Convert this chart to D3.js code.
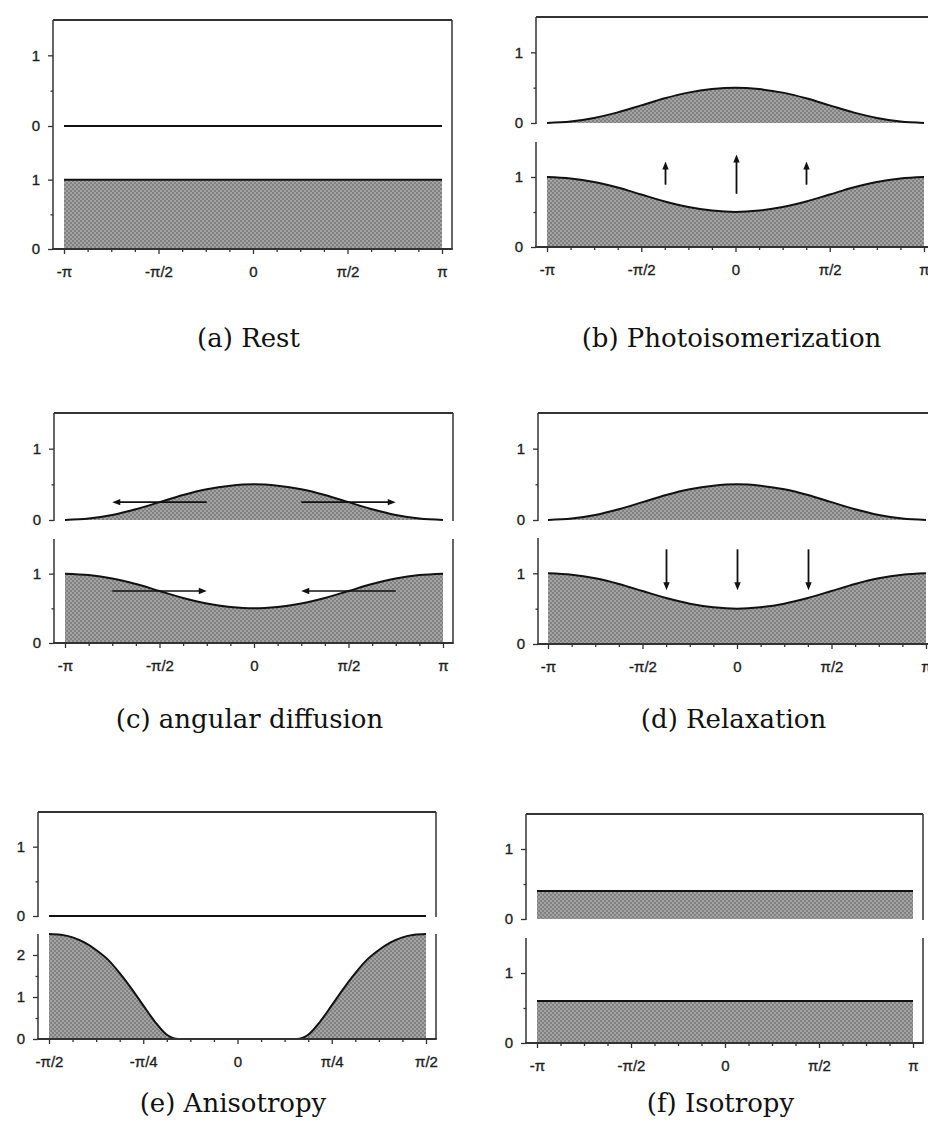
<!DOCTYPE html>
<html>
<head>
<meta charset="utf-8">
<script src="https://cdn.jsdelivr.net/npm/d3@7"></script>
<style>
  body { margin: 0; background: #fff; }
  svg { display: block; }
  .tick text { font-family: "Liberation Sans", Arial, sans-serif; font-size: 15px; fill: #1e1e1e; stroke: #1e1e1e; stroke-width: 0.35px; }
  .caption { font-family: "DejaVu Serif", serif; font-size: 26px; fill: #111; }
</style>
</head>
<body>
<svg id="fig" width="928" height="1147"></svg>
<script>
const PI = Math.PI;

// Angle grids: multiples of pi/8 over [-pi, pi] and of pi/32 over [-pi/2, pi/2]
const angleSteps = [-8, -7, -6, -5, -4, -3, -2, -1, 0, 1, 2, 3, 4, 5, 6, 7, 8];
const anglesFull = angleSteps.map(k => k * PI / 8);
const fineSteps = d3.range(-16, 17);
const anglesHalf = fineSteps.map(k => k * PI / 32);
const endsFull = [-PI, PI];
const endsHalf = [-PI / 2, PI / 2];

// Populations: upper row = excited (cis) state, lower row = ground (trans) state
const restUpper = [0, 0];
const restLower = [1, 1];
const excitedUpper = [0, 0.02, 0.07, 0.15, 0.25, 0.35, 0.43, 0.48, 0.5, 0.48, 0.43, 0.35, 0.25, 0.15, 0.07, 0.02, 0];
const depletedLower = [1, 0.98, 0.93, 0.85, 0.75, 0.65, 0.57, 0.52, 0.5, 0.52, 0.57, 0.65, 0.75, 0.85, 0.93, 0.98, 1];
const anisoUpper = [0, 0];
const anisoLower = [2.5, 2.48, 2.42, 2.3, 2.12, 1.89, 1.57, 1.2, 0.8, 0.41, 0.1, 0, 0, 0, 0, 0, 0,
                    0, 0, 0, 0, 0, 0.1, 0.41, 0.8, 1.2, 1.57, 1.89, 2.12, 2.3, 2.42, 2.48, 2.5];
const isoUpper = [0.4, 0.4];
const isoLower = [0.6, 0.6];

// Arrows: pumping (up), relaxation (down), diffusion (sideways)
const pumpArrowX = [-3 * PI / 8, 0, 3 * PI / 8];
const pumpArrowFrom = [0.89, 0.76, 0.89];
const pumpArrowTo = [1.22, 1.32, 1.22];
const relaxArrowX = [-3 * PI / 8, 0, 3 * PI / 8];
const relaxArrowFrom = [1.34, 1.34, 1.34];
const relaxArrowTo = [0.76, 0.76, 0.76];
const diffUpperFrom = [-PI / 4, PI / 4];
const diffUpperTo = [-3 * PI / 4, 3 * PI / 4];
const diffUpperLevel = 0.25;
const diffLowerFrom = [-3 * PI / 4, 3 * PI / 4];
const diffLowerTo = [-PI / 4, PI / 4];
const diffLowerLevel = 0.75;

// Axis ticks
const fullTickValues = [-PI, -PI / 2, 0, PI / 2, PI];
const fullTickLabels = ["-π", "-π/2", "0", "π/2", "π"];
const halfTickValues = [-PI / 2, -PI / 4, 0, PI / 4, PI / 2];
const halfTickLabels = ["-π/2", "-π/4", "0", "π/4", "π/2"];
const yTickValues = [0, 1];
const yMinorValues = [0.5];
const anisoTickValues = [0, 1, 2];
const anisoMinorValues = [0.5, 1.5];

const captions = ["(a) Rest", "(b) Photoisomerization", "(c) angular diffusion",
                  "(d) Relaxation", "(e) Anisotropy", "(f) Isotropy"];

const svg = d3.select("#fig");

// Halftone-like grey fill
const pat = svg.append("defs").append("pattern")
  .attr("id", "shade").attr("width", 4).attr("height", 4)
  .attr("patternUnits", "userSpaceOnUse");
pat.append("rect").attr("width", 4).attr("height", 4).attr("fill", "#a3a3a3");
pat.append("rect").attr("width", 2).attr("height", 2).attr("fill", "#818181");
pat.append("rect").attr("x", 2).attr("y", 2).attr("width", 2).attr("height", 2).attr("fill", "#818181");

const panels = [
  { caption: captions[0], split: false, left: 53, right: 452, top: 20, upperZero: 126, lowerTop: 145, lowerZero: 249,
    x0: 64, x1: 442, xDomain: [-PI, PI], ticks: fullTickValues, labels: fullTickLabels,
    lowerMax: 1.5, lowerTicks: yTickValues, lowerMinor: yMinorValues,
    upper: { x: endsFull, y: restUpper, fill: false }, lower: { x: endsFull, y: restLower }, capY: 347 },
  { caption: captions[1], split: true, left: 536, right: 935, top: 17, upperZero: 123, lowerTop: 142, lowerZero: 247,
    x0: 547, x1: 924, xDomain: [-PI, PI], ticks: fullTickValues, labels: fullTickLabels,
    lowerMax: 1.5, lowerTicks: yTickValues, lowerMinor: yMinorValues,
    upper: { x: anglesFull, y: excitedUpper, fill: true }, lower: { x: anglesFull, y: depletedLower }, capY: 347,
    vArrows: { x: pumpArrowX, from: pumpArrowFrom, to: pumpArrowTo } },
  { caption: captions[2], split: true, left: 54, right: 453, top: 413, upperZero: 520, lowerTop: 539, lowerZero: 643,
    x0: 65, x1: 443, xDomain: [-PI, PI], ticks: fullTickValues, labels: fullTickLabels,
    lowerMax: 1.5, lowerTicks: yTickValues, lowerMinor: yMinorValues,
    upper: { x: anglesFull, y: excitedUpper, fill: true }, lower: { x: anglesFull, y: depletedLower }, capY: 728,
    hArrows: [
      { row: "upper", from: diffUpperFrom, to: diffUpperTo, level: diffUpperLevel },
      { row: "lower", from: diffLowerFrom, to: diffLowerTo, level: diffLowerLevel } ] },
  { caption: captions[3], split: true, left: 538, right: 937, top: 413, upperZero: 520, lowerTop: 538, lowerZero: 644,
    x0: 548, x1: 926, xDomain: [-PI, PI], ticks: fullTickValues, labels: fullTickLabels,
    lowerMax: 1.5, lowerTicks: yTickValues, lowerMinor: yMinorValues,
    upper: { x: anglesFull, y: excitedUpper, fill: true }, lower: { x: anglesFull, y: depletedLower }, capY: 728,
    vArrows: { x: relaxArrowX, from: relaxArrowFrom, to: relaxArrowTo } },
  { caption: captions[4], split: true, left: 38, right: 436, top: 812, upperZero: 916, lowerTop: 934, lowerZero: 1039,
    x0: 49, x1: 426, xDomain: [-PI / 2, PI / 2], ticks: halfTickValues, labels: halfTickLabels,
    lowerMax: 2.5, lowerTicks: anisoTickValues, lowerMinor: anisoMinorValues,
    upper: { x: endsHalf, y: anisoUpper, fill: false }, lower: { x: anglesHalf, y: anisoLower }, capY: 1112 },
  { caption: captions[5], split: true, left: 526, right: 923, top: 814, upperZero: 919, lowerTop: 938, lowerZero: 1043,
    x0: 537, x1: 913, xDomain: [-PI, PI], ticks: fullTickValues, labels: fullTickLabels,
    lowerMax: 1.5, lowerTicks: yTickValues, lowerMinor: yMinorValues,
    upper: { x: endsFull, y: isoUpper, fill: true }, lower: { x: endsFull, y: isoLower }, capY: 1112 }
];

const frameColor = "#333";

function styleAxis(sel) {
  sel.select(".domain").remove();
  sel.selectAll(".tick line").attr("stroke", frameColor).attr("stroke-width", 1.3);
}

function drawSeries(g, x, y, s, withFill) {
  const pts = s.x.map((v, i) => [v, s.y[i]]);
  if (withFill) {
    g.append("path").datum(pts)
      .attr("fill", "url(#shade)")
      .attr("d", d3.area().x(d => x(d[0])).y0(y(0)).y1(d => y(d[1])).curve(d3.curveMonotoneX));
  }
  g.append("path").datum(pts)
    .attr("fill", "none").attr("stroke", "#111").attr("stroke-width", 2)
    .attr("d", d3.line().x(d => x(d[0])).y(d => y(d[1])).curve(d3.curveMonotoneX));
}

function arrowHead(g, tipX, tipY, dirX, dirY) {
  const len = 8, half = 3.2;
  const bx = tipX - dirX * len, by = tipY - dirY * len;
  const px = -dirY * half, py = dirX * half;
  g.append("path")
    .attr("d", `M${tipX},${tipY}L${bx + px},${by + py}L${bx - px},${by - py}Z`)
    .attr("fill", "#111");
}

panels.forEach(p => {
  const g = svg.append("g");
  const x = d3.scaleLinear().domain(p.xDomain).range([p.x0, p.x1]);
  const yU = d3.scaleLinear().domain([0, 1.5]).range([p.upperZero, p.top]);
  const yL = d3.scaleLinear().domain([0, p.lowerMax]).range([p.lowerZero, p.lowerTop]);

  // Curves and shaded populations
  drawSeries(g, x, yU, p.upper, p.upper.fill);
  drawSeries(g, x, yL, p.lower, true);

  // Frame
  const line = (x1, y1, x2, y2, w) => g.append("line")
    .attr("x1", x1).attr("y1", y1).attr("x2", x2).attr("y2", y2)
    .attr("stroke", frameColor).attr("stroke-width", w || 1.5);
  line(p.left, p.top, p.right, p.top, 2);
  if (p.split) {
    line(p.left, p.top, p.left, p.upperZero + 1);
    line(p.right, p.top, p.right, p.upperZero + 1);
    line(p.left, p.lowerTop, p.left, p.lowerZero);
    line(p.right, p.lowerTop, p.right, p.lowerZero);
  } else {
    line(p.left, p.top, p.left, p.lowerZero);
    line(p.right, p.top, p.right, p.lowerZero);
  }
  line(p.left - 0.75, p.lowerZero, p.right + 0.75, p.lowerZero, 1.8);

  // Bottom axis: labelled major ticks plus three minor ticks between each pair
  const major = p.ticks;
  const minor = [];
  for (let i = 0; i < major.length - 1; i++) {
    const step = (major[i + 1] - major[i]) / 4;
    for (let j = 1; j < 4; j++) minor.push(major[i] + j * step);
  }
  g.append("g").attr("transform", `translate(0,${p.lowerZero})`)
    .call(d3.axisBottom(x).tickValues(major).tickFormat((d, i) => p.labels[i]).tickSize(5).tickPadding(12))
    .call(styleAxis);
  g.append("g").attr("transform", `translate(0,${p.lowerZero})`)
    .call(d3.axisBottom(x).tickValues(minor).tickFormat("").tickSize(3))
    .call(styleAxis);

  // Left axes for both rows
  [[yU, yTickValues, yMinorValues], [yL, p.lowerTicks, p.lowerMinor]].forEach(([ys, tv, mv]) => {
    g.append("g").attr("transform", `translate(${p.left},0)`)
      .call(d3.axisLeft(ys).tickValues(tv).tickFormat(d3.format("d")).tickSize(5).tickPadding(8))
      .call(styleAxis);
    g.append("g").attr("transform", `translate(${p.left},0)`)
      .call(d3.axisLeft(ys).tickValues(mv).tickFormat("").tickSize(2.5))
      .call(styleAxis);
  });

  // Vertical arrows (pumping / relaxation)
  if (p.vArrows) {
    const a = p.vArrows;
    a.x.forEach((xv, i) => {
      const xs = Math.round(x(xv)) + 0.5;
      const y0 = yL(a.from[i]), y1 = yL(a.to[i]);
      const dir = y1 < y0 ? -1 : 1;
      g.append("line").attr("x1", xs).attr("x2", xs).attr("y1", y0).attr("y2", y1 - dir * 6)
        .attr("stroke", "#111").attr("stroke-width", 1.8);
      arrowHead(g, xs, y1, 0, dir);
    });
  }

  // Horizontal arrows (angular diffusion)
  if (p.hArrows) {
    p.hArrows.forEach(h => {
      const ys = h.row === "upper" ? yU : yL;
      const yy = ys(h.level);
      h.from.forEach((fv, i) => {
        const x0 = x(fv), x1 = x(h.to[i]);
        const dir = x1 > x0 ? 1 : -1;
        g.append("line").attr("x1", x0).attr("x2", x1 - dir * 6).attr("y1", yy).attr("y2", yy)
          .attr("stroke", "#111").attr("stroke-width", 1.6);
        arrowHead(g, x1, yy, dir, 0);
      });
    });
  }

  // Caption
  svg.append("text").attr("class", "caption")
    .attr("x", (p.left + p.right) / 2 - 4).attr("y", p.capY)
    .attr("text-anchor", "middle").text(p.caption);
});
</script>
</body>
</html>
